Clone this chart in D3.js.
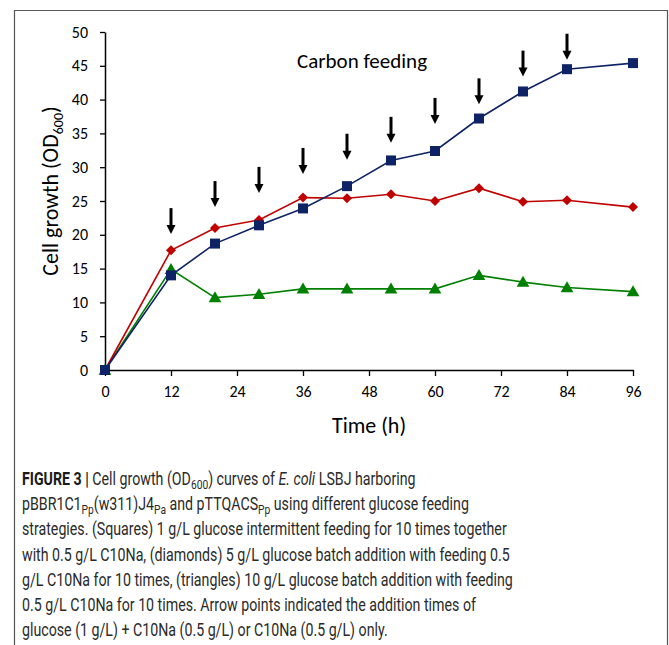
<!DOCTYPE html>
<html><head><meta charset="utf-8">
<script src="https://cdn.jsdelivr.net/npm/d3@7"></script>
<style>
html,body{margin:0;padding:0;background:#fff;}
svg{display:block;}
</style></head>
<body>
<svg id="c" width="669" height="645"></svg>
<script>
// ---- data ----
const times = [0, 12, 20, 28, 36, 44, 52, 60, 68, 76, 84, 96];
const squares = [0, 14.0, 18.7, 21.4, 23.9, 27.2, 31.0, 32.4, 37.2, 41.2, 44.5, 45.4];
const diamonds = [0, 17.7, 21.0, 22.2, 25.5, 25.4, 26.0, 25.0, 26.9, 24.9, 25.1, 24.1];
const triangles = [0, 14.9, 10.7, 11.2, 12.0, 12.0, 12.0, 12.0, 14.0, 13.0, 12.2, 11.6];
const feedTimes = [12, 20, 28, 36, 44, 52, 60, 68, 76, 84];
const arrowTips = [20.1, 24.1, 26.2, 29.0, 31.1, 33.6, 36.4, 39.3, 43.4, 45.9];
const xTicks = [0, 12, 24, 36, 48, 60, 72, 84, 96];
const yTicks = [0, 5, 10, 15, 20, 25, 30, 35, 40, 45, 50];

const svg = d3.select("#c");
const chartFont = "Carlito, Lato, 'Open Sans', sans-serif";
const capFont = "'Roboto', 'Liberation Sans', sans-serif";

// frame
svg.append("path").attr("d", "M14.5,645 V10.5 H667.5 V645")
  .attr("fill", "none").attr("stroke", "#555").attr("stroke-width", 1.2);

const x = d3.scaleLinear().domain([0, 96]).range([105, 633]);
const y = d3.scaleLinear().domain([0, 50]).range([370, 32]);

// axes
const gx = svg.append("g").attr("transform", `translate(0,${y(0)})`)
  .call(d3.axisBottom(x).tickValues(xTicks).tickSize(6).tickPadding(10).tickSizeOuter(0));
const gy = svg.append("g").attr("transform", `translate(${x(0)},0)`)
  .call(d3.axisLeft(y).tickValues(yTicks).tickSize(5).tickPadding(12).tickSizeOuter(0));
[gx, gy].forEach(g => {
  g.select(".domain").attr("stroke", "#000").attr("stroke-width", 1.5);
  g.selectAll(".tick line").attr("stroke", "#000").attr("stroke-width", 1.3);
  g.selectAll(".tick text").attr("font-family", chartFont).attr("font-size", 16).attr("fill", "#000");
});

// axis titles
const yt = svg.append("text").attr("transform", "translate(58,191) rotate(-90)")
  .attr("text-anchor", "middle").attr("font-family", chartFont).attr("font-size", 22).attr("fill", "#000");
yt.append("tspan").text("Cell growth (OD");
yt.append("tspan").text("600").attr("font-size", 14).attr("dy", 5);
yt.append("tspan").text(")").attr("dy", -5);

svg.append("text").attr("x", 369).attr("y", 433).attr("text-anchor", "middle")
  .attr("font-family", chartFont).attr("font-size", 22).attr("fill", "#000").text("Time (h)");

svg.append("text").attr("x", 297).attr("y", 68)
  .attr("font-family", chartFont).attr("font-size", 21).attr("fill", "#000").text("Carbon feeding");

// series
const series = [
  {vals: triangles, color: "#008000", sym: d3.symbolTriangle, size: 70, dy: 1, rot: 0},
  {vals: diamonds, color: "#C00000", sym: d3.symbolSquare, size: 50, dy: 0, rot: 45},
  {vals: squares, color: "#0E2366", sym: d3.symbolSquare, size: 100, dy: 0, rot: 0},
];
const line = d3.line().x(d => x(d[0])).y(d => y(d[1]));
series.forEach(s => {
  const pts = times.map((t, i) => [t, s.vals[i]]);
  svg.append("path").attr("d", line(pts)).attr("fill", "none")
    .attr("stroke", s.color).attr("stroke-width", 1.6);
  svg.selectAll(null).data(pts).enter().append("path")
    .attr("d", d3.symbol().type(s.sym).size(s.size))
    .attr("transform", d => `translate(${x(d[0])},${y(d[1]) + s.dy}) rotate(${s.rot})`)
    .attr("fill", s.color);
});

// arrows
const arrowLen = 26, headLen = 9, headW = 4.5;
feedTimes.forEach((t, i) => {
  const ax = x(t), tip = y(arrowTips[i]);
  svg.append("line").attr("x1", ax).attr("x2", ax).attr("y1", tip - arrowLen).attr("y2", tip - headLen + 1)
    .attr("stroke", "#000").attr("stroke-width", 3);
  svg.append("path").attr("d", `M${ax - headW},${tip - headLen} L${ax + headW},${tip - headLen} L${ax},${tip} Z`)
    .attr("fill", "#000");
});

// caption
const capLines = [
  [["FIGURE 3 | ", "b"], ["Cell growth (OD"], ["600", "sub"], [") curves of "], ["E. coli", "i"], [" LSBJ harboring"]],
  [["pBBR1C1"], ["Pp", "sub"], ["(w311)J4"], ["Pa", "sub"], [" and pTTQACS"], ["Pp", "sub"], [" using different glucose feeding"]],
  [["strategies. (Squares) 1 g/L glucose intermittent feeding for 10 times together"]],
  [["with 0.5 g/L C10Na, (diamonds) 5 g/L glucose batch addition with feeding 0.5"]],
  [["g/L C10Na for 10 times, (triangles) 10 g/L glucose batch addition with feeding"]],
  [["0.5 g/L C10Na for 10 times. Arrow points indicated the addition times of"]],
  [["glucose (1 g/L) + C10Na (0.5 g/L) or C10Na (0.5 g/L) only."]],
];
const capX = 22, capY0 = 485, capStep = 25.2, capTargetW = 485;
const capTexts = capLines.map((parts, li) => {
  const g = svg.append("g");
  const t = g.append("text").attr("x", 0).attr("y", 0)
    .attr("font-family", capFont).attr("font-size", 18).attr("fill", "#2a2a2a");
  let shifted = false;
  parts.forEach(p => {
    const ts = t.append("tspan").text(p[0]);
    if (p[1] === "b") ts.attr("font-weight", "bold").attr("fill", "#1a1a1a");
    if (p[1] === "i") ts.attr("font-style", "italic");
    if (p[1] === "sub") { ts.attr("font-size", 13).attr("dy", 4); shifted = true; }
    else if (shifted) { ts.attr("dy", -4); shifted = false; }
  });
  return {g, t, li};
});
const refW = capTexts[2].t.node().getComputedTextLength();
const sx = capTargetW / refW;
capTexts.forEach(c => c.g.attr("transform", `translate(${capX},${capY0 + c.li * capStep}) scale(${sx},1)`));
</script>
</body></html>
